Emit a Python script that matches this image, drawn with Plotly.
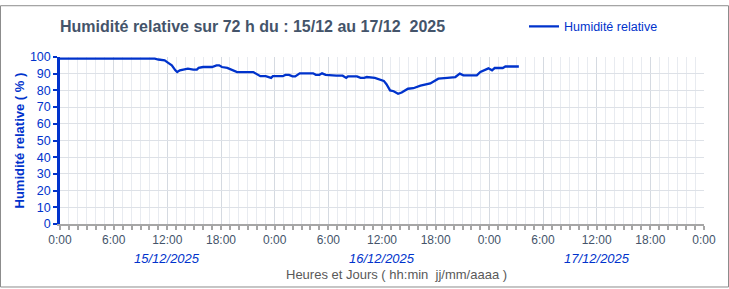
import plotly.graph_objects as go

# Data (hours since 15/12/2025 0:00, relative humidity %)
hours = [0, 10.6, 11.0, 11.7, 12.1, 12.5, 12.9, 13.1, 13.4, 13.8, 14.3, 14.9, 15.3, 15.5, 16.0,
         17.0, 17.5, 17.8, 18.1, 18.7, 19.4, 19.8, 21.6, 22.0, 22.4, 23.0, 23.6, 23.8, 24.9,
         25.2, 25.6, 26.0, 26.3, 26.8, 28.3, 28.6, 29.0, 29.3, 29.7, 30.9, 31.6, 32.0, 32.2,
         33.2, 33.6, 34.0, 34.3, 35.2, 35.8, 36.2, 36.5, 36.9, 37.3, 37.8, 38.2, 38.5, 38.9,
         39.5, 40.3, 41.4, 42.3, 43.3, 44.2, 44.7, 45.1, 46.6, 47.0, 47.9, 48.3, 48.6, 49.5,
         49.8, 51.3]
humidity = [99, 99, 98.5, 98, 96.5, 95, 92, 91, 92, 92.5, 93, 92.5, 92.5, 93.5, 94,
            94, 95, 95, 94, 93.5, 92, 91, 91, 89.5, 88.5, 88.5, 87.5, 88.5, 88.5,
            89.3, 89.3, 88.4, 88.4, 90.2, 90.2, 89.3, 89.3, 90.2, 89.3, 88.8, 88.8, 87.5, 88.4,
            88.4, 87.5, 87.5, 88, 87.5, 86.6, 85.7, 83.7, 80, 79.5, 78, 78.7, 79.5, 81,
            81.3, 82.8, 84.2, 87, 87.5, 88, 90, 89, 89, 91, 93.2, 92, 93.4, 93.4,
            94.3, 94.3]

tick_hours = [0, 6, 12, 18, 24, 30, 36, 42, 48, 54, 60, 66, 72]
tick_labels = ["0:00", "6:00", "12:00", "18:00", "0:00", "6:00", "12:00", "18:00",
               "0:00", "6:00", "12:00", "18:00", "0:00"]
day_hours = [12, 36, 60]
day_labels = ["15/12/2025", "16/12/2025", "17/12/2025"]

BLUE = "#0033CC"
FONT = "Liberation Sans Narrow, Liberation Sans, Arial, sans-serif"

W, H = 729, 289
L, R, T, B = 60, 25, 53, 65
pw, ph = W - L - R, H - T - B

fig = go.Figure()
fig.add_trace(go.Scatter(
    x=hours, y=humidity, mode="lines", name="Humidité relative",
    line=dict(color=BLUE, width=2.3),
))

annotations = []
for h, lab in zip(day_hours, day_labels):
    annotations.append(dict(
        x=h, y=-(259 - (T + ph)) / ph, xref="x", yref="paper", text="<i>" + lab + "</i>",
        showarrow=False, font=dict(family=FONT, size=13, color=BLUE),
        xanchor="center", yanchor="middle"))
annotations.append(dict(
    x=(396 - L) / pw, y=-(276 - (T + ph)) / ph, xref="paper", yref="paper",
    text="Heures et Jours ( hh:min  jj/mm/aaaa )", showarrow=False,
    font=dict(family=FONT, size=13, color="#595959"), xanchor="center", yanchor="middle"))
annotations.append(dict(
    x=(58 - L) / pw, y=1 + (T - 22) / ph, xref="paper", yref="paper",
    text="<b>Humidité relative sur 72 h du : 15/12 au 17/12  2025</b>", showarrow=False,
    font=dict(family=FONT, size=16, color="#44546A"), xanchor="left", yanchor="middle"))
annotations.append(dict(
    x=-(L - 19) / pw, y=0.5, xref="paper", yref="paper",
    text="<b>Humidité relative ( % )</b>", showarrow=False, textangle=-90,
    font=dict(family=FONT, size=13, color=BLUE), xanchor="center", yanchor="middle"))

fig.update_layout(
    width=W, height=H,
    margin=dict(l=L, r=R, t=T, b=B),
    paper_bgcolor="white", plot_bgcolor="white",
    showlegend=True,
    legend=dict(x=(524 - L) / pw, y=1 + (T - 22) / ph, xanchor="left", yanchor="middle",
                font=dict(family=FONT, size=12.5, color=BLUE), bgcolor="rgba(0,0,0,0)",
                itemwidth=30),
    annotations=annotations,
    shapes=[dict(type="rect", xref="paper", yref="paper",
                 x0=-(L - 0.5) / pw, x1=1 + (R - 0.5) / pw,
                 y0=-(B - 0.5) / ph, y1=1 + (T - 0.5) / ph,
                 line=dict(color="#8C8C8C", width=1), layer="below")],
)

fig.update_xaxes(
    range=[0, 72], tickvals=tick_hours, ticktext=tick_labels,
    tickfont=dict(family=FONT, size=12, color="#44546A"),
    showgrid=True, gridcolor="#D5DAE1", gridwidth=1,
    minor=dict(dtick=1, tick0=0, showgrid=True, gridcolor="#E8EBF0", gridwidth=1,
               ticks="outside", ticklen=4, tickcolor="#A6A6A6", tickwidth=2),
    ticks="outside", ticklen=4, tickcolor="#A6A6A6", tickwidth=2,
    showline=True, linecolor="#A6A6A6", linewidth=2,
    zeroline=False, fixedrange=True,
)
fig.update_yaxes(
    range=[0, 100], dtick=10, tick0=0,
    tickfont=dict(family=FONT, size=12.5, color=BLUE),
    showgrid=True, gridcolor="#DDE1E7", gridwidth=1,
    ticks="outside", ticklen=4, tickcolor=BLUE, tickwidth=2,
    showline=True, linecolor=BLUE, linewidth=2.5,
    zeroline=False, fixedrange=True,
)

fig.write_html("out.html")
